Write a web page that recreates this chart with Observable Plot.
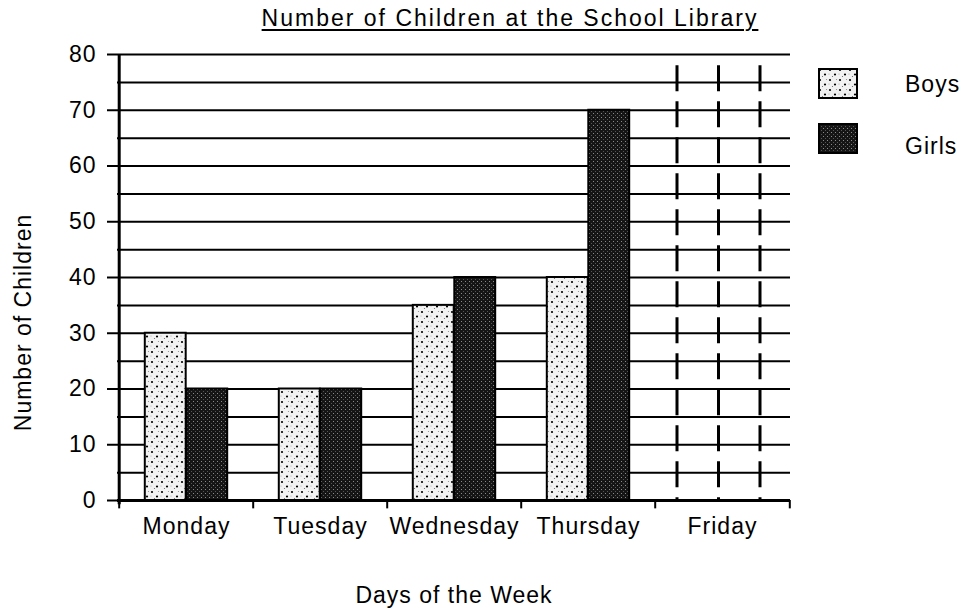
<!DOCTYPE html>
<html>
<head>
<meta charset="utf-8">
<script src="https://cdn.jsdelivr.net/npm/d3@7"></script>
<script src="https://cdn.jsdelivr.net/npm/@observablehq/plot@0.6"></script>
<style>
  html, body { margin: 0; padding: 0; background: #fff; }
  #wrap { position: relative; width: 974px; height: 610px; overflow: hidden;
          font-family: "Liberation Sans", Arial, sans-serif; color: #000; }
  #title { position: absolute; top: 5px; left: 510px; transform: translateX(-50%);
           white-space: nowrap; font-size: 23px; letter-spacing: 2px;
           text-decoration: underline; text-decoration-thickness: 2px; text-underline-offset: 3px; }
  #chart { position: absolute; top: 40px; left: 0; }
  #chart svg text { letter-spacing: 1px; }
  .lg-sw { position: absolute; left: 818px; width: 40px; height: 31px; }
  .lg-lab { position: absolute; left: 905px; font-size: 23px; letter-spacing: 1px; white-space: nowrap; }
</style>
</head>
<body>
<div id="wrap">
  <svg width="0" height="0" style="position:absolute">
    <defs>
      <pattern id="boysPat" width="10" height="10" patternUnits="userSpaceOnUse">
        <rect width="10" height="10" fill="#f2f2f2"/>
        <circle cx="2" cy="2" r="1.1" fill="#000"/>
        <circle cx="7" cy="6.5" r="1.1" fill="#000"/>
        <circle cx="4.5" cy="8.5" r="0.6" fill="#666"/>
        <circle cx="8.5" cy="1.5" r="0.6" fill="#888"/>
        <circle cx="1" cy="6" r="0.5" fill="#999"/>
      </pattern>
      <pattern id="girlsPat" width="4" height="4" patternUnits="userSpaceOnUse">
        <rect width="4" height="4" fill="#151515"/>
        <rect x="1" y="1" width="1" height="1" fill="#8a8a8a"/>
        <rect x="3" y="3" width="1" height="1" fill="#555"/>
      </pattern>
    </defs>
  </svg>
  <div id="title">Number of Children at the School Library</div>
  <div id="chart"></div>
  <svg class="lg-sw" style="top:68px" width="40" height="31"><rect x="1" y="1" width="38" height="29" fill="url(#boysPat)" stroke="#000" stroke-width="2"/></svg>
  <div class="lg-lab" style="top:71px">Boys</div>
  <svg class="lg-sw" style="top:123px" width="40" height="31"><rect x="1" y="1" width="38" height="29" fill="url(#girlsPat)" stroke="#000" stroke-width="2"/></svg>
  <div class="lg-lab" style="top:133px">Girls</div>
</div>
<script>
// ---- data ----
const days = ["Monday", "Tuesday", "Wednesday", "Thursday", "Friday"];
const boys = [30, 20, 35, 40, null];
const girls = [20, 20, 40, 70, null];
const yTicks = [0, 10, 20, 30, 40, 50, 60, 70, 80];
const gridLines = [0, 5, 10, 15, 20, 25, 30, 35, 40, 45, 50, 55, 60, 65, 70, 75, 80];
const emptyColumnHeight = 78;   // height of the dashed, not-yet-filled Friday column
const yLabel = "Number of Children";
const xLabel = "Days of the Week";

// ---- layout ----
const W = 974, H = 570, ml = 117, mr = 184, mt = 14, mb = 110;
const bw = (W - ml - mr) / days.length;
const barW = 41.5;
const tickDepth = 1.5;

const rows = days.map((d, i) => ({day: d, boys: boys[i], girls: girls[i]}));
const emptyDays = rows.filter(r => r.boys == null && r.girls == null).map(r => r.day);

const dashed = {y1: emptyColumnHeight, y2: 0, stroke: "#000", strokeWidth: 3, strokeDasharray: "26,10"};

const chart = Plot.plot({
  width: W, height: H,
  marginLeft: ml, marginRight: mr, marginTop: mt, marginBottom: mb,
  style: {fontFamily: "'Liberation Sans', Arial, sans-serif", fontSize: "23px", color: "#000", background: "transparent", overflow: "visible"},
  x: {domain: days, padding: 0, label: null},
  y: {domain: [0, 80], label: null},
  marks: [
    Plot.ruleY(gridLines, {stroke: "#000", strokeWidth: 2}),
    Plot.barY(rows.filter(r => r.boys != null), {x: "day", y: "boys", insetLeft: bw / 2 - barW, insetRight: bw / 2,
      fill: "url(#boysPat)", stroke: "#000", strokeWidth: 2}),
    Plot.barY(rows.filter(r => r.girls != null), {x: "day", y: "girls", insetLeft: bw / 2, insetRight: bw / 2 - barW,
      fill: "url(#girlsPat)", stroke: "#000", strokeWidth: 2}),
    Plot.ruleX(emptyDays, {...dashed, dx: -barW - 4}),
    Plot.ruleX(emptyDays, {...dashed, dx: -4}),
    Plot.ruleX(emptyDays, {...dashed, dx: barW - 4}),
    Plot.ruleX(days, {dx: -bw / 2, y1: 0, y2: -tickDepth, stroke: "#000", strokeWidth: 2}),
    Plot.ruleX([days[days.length - 1]], {dx: bw / 2, y1: 0, y2: -tickDepth, stroke: "#000", strokeWidth: 2}),
    Plot.ruleY([0], {stroke: "#000", strokeWidth: 3}),
    Plot.ruleX([days[0]], {dx: -bw / 2, y1: -tickDepth / 2, y2: 80, stroke: "#000", strokeWidth: 3}),
    Plot.axisY({ticks: yTicks, tickSize: 10, tickPadding: 11, strokeWidth: 2, label: null, fontSize: 23}),
    Plot.axisX({tickSize: 0, tickPadding: 17, label: null, fontSize: 23}),
    Plot.text([yLabel], {frameAnchor: "left", textAnchor: "middle", dx: -94, dy: 45, rotate: -90, text: d => d, fontSize: 23}),
    Plot.text([xLabel], {frameAnchor: "bottom", textAnchor: "middle", dy: 102, text: d => d, fontSize: 23})
  ]
});
document.getElementById("chart").appendChild(chart);
</script>
</body>
</html>
